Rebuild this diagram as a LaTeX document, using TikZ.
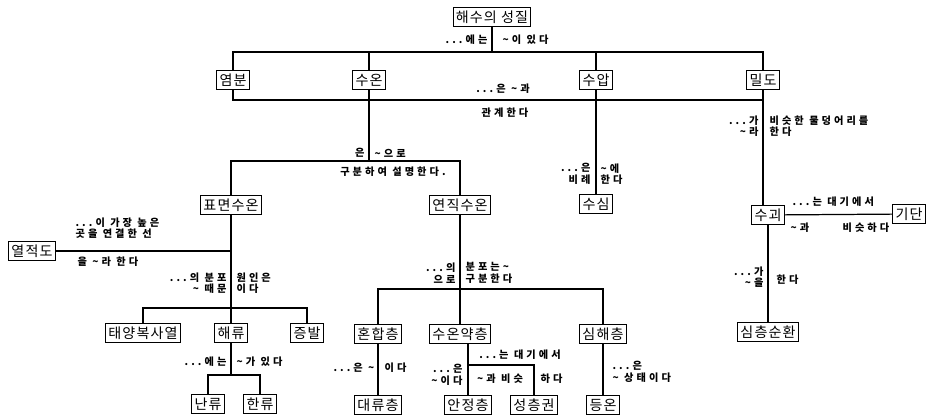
\documentclass[tikz,border=0pt]{standalone}
\usepackage{fontspec}
\newfontfamily\krbox[LetterSpace=8]{Noto Sans CJK KR}
\newfontfamily\krlab[LetterSpace=30]{Noto Sans CJK KR}
\newcommand{\wave}{\textasciitilde}
\begin{document}
\begin{tikzpicture}[x=0.02cm, y=-0.02cm, line width=0.7pt,
  cbox/.style={draw=black, line width=0.6pt, inner xsep=1.5pt, inner ysep=2pt, font=\krbox\fontsize{8}{9}\selectfont},
  lab/.style={inner sep=0pt, font=\krlab\bfseries\fontsize{5.8}{6.6}\selectfont}]
\useasboundingbox (0,0) rectangle (930,418);
% boxes
\node[cbox] (top) at (492,17) {해수의 성질};
\node[cbox] (salt) at (233,80) {염분};
\node[cbox] (temp) at (369,80) {수온};
\node[cbox] (press) at (596,80) {수압};
\node[cbox] (dens) at (763,80) {밀도};
\node[cbox] (surf) at (231,205) {표면수온};
\node[cbox] (vert) at (460,205) {연직수온};
\node[cbox] (depth) at (596,204) {수심};
\node[cbox] (mass) at (768,215) {수괴};
\node[cbox] (air) at (909,214) {기단};
\node[cbox] (deep) at (768,332) {심층순환};
\node[cbox] (equator) at (32,251) {열적도};
\node[cbox] (solar) at (143,333) {태양복사열};
\node[cbox] (current) at (231,333) {해류};
\node[cbox] (evap) at (307,333) {증발};
\node[cbox] (warm) at (208,404) {난류};
\node[cbox] (cold) at (260,404) {한류};
\node[cbox] (mixed) at (378,334) {혼합층};
\node[cbox] (thermo) at (460,334) {수온약층};
\node[cbox] (deepsea) at (603,334) {심해층};
\node[cbox] (conv) at (378,405) {대류층};
\node[cbox] (stable) at (468,405) {안정층};
\node[cbox] (strato) at (534,405) {성층권};
\node[cbox] (iso) at (603,405) {등온};
% junctions
\coordinate (j0) at (492,52);
\coordinate (rel) at (500,100);
\coordinate (tj) at (369,161);
\coordinate (sj) at (231,308);
\coordinate (cj) at (231,375);
\coordinate (vj) at (460,289);
\coordinate (tk) at (500,365);
% connectors
\draw (top) -- (j0);
\draw (salt) |- (j0) -| (dens);
\draw (temp) -- (temp |- j0);
\draw (press) -- (press |- j0);
\draw (salt) |- (rel) -- (rel -| dens);
\draw (dens) -- (dens |- mass.north);
\draw (temp) -- (tj);
\draw (surf) |- (tj) -| (vert);
\draw (press) -- (depth);
\draw (mass) -- (air);
\draw (mass) -- (deep);
\draw (equator) -- (equator -| surf);
\draw (surf) -- (sj);
\draw (solar) |- (sj) -| (evap);
\draw (sj) -- (current);
\draw (current) -- (cj);
\draw (warm) |- (cj) -| (cold);
\draw (vert) -- (vj);
\draw (mixed) |- (vj) -| (deepsea);
\draw (vj) -- (thermo);
\draw (mixed) -- (conv);
\draw (thermo.south -| stable) -- (stable);
\draw (stable |- tk) -| (strato);
\draw (deepsea) -- (iso);
% labels
\node[lab, anchor=east] (l1a) at (488,40) {...에는};
\node[lab, anchor=west] (l1b) at (502,40) {\wave{}이 있다};
\node[lab] (l2a) at (503,89) {...은 \wave{}과};
\node[lab] (l2b) at (505,113) {관계한다};
\node[lab, anchor=east] (l3a) at (365,153) {은};
\node[lab, anchor=west] (l3b) at (374,153) {\wave{}으로};
\node[lab] (l3c) at (393,172) {구분하여 설명한다.};
\node[lab, anchor=east, align=right] (l4a) at (591,174) {...은\\비례};
\node[lab, anchor=west, align=left] (l4b) at (600,174) {\wave{}에\\한다};
\node[lab, anchor=east, align=right] (l5a) at (759,126) {...가\\\wave{}라};
\node[lab, anchor=west, align=left] (l5b) at (769,126) {비슷한 물덩어리를\\한다};
\node[lab, anchor=west] (l6a) at (792,202) {...는 대기에서};
\node[lab, anchor=west] (l6b) at (790,228) {\wave{}과};
\node[lab, anchor=west] (l6c) at (842,228) {비슷하다};
\node[lab, anchor=east, align=right] (l7a) at (764,277) {...가\\\wave{}을};
\node[lab, anchor=west] (l7b) at (776,280) {한다};
\node[lab, anchor=west, align=left] (l8a) at (75,228) {...이 가장 높은\\곳을 연결한 선};
\node[lab, anchor=west] (l8b) at (77,262) {을 \wave{}라 한다};
\node[lab, anchor=east, align=right] (l9a) at (227,283) {...의 분포\\\wave{} 때문};
\node[lab, anchor=west, align=left] (l9b) at (236,283) {원인은\\이다};
\node[lab, anchor=east] (l10a) at (227,362) {...에는};
\node[lab, anchor=west] (l10b) at (236,362) {\wave{}가 있다};
\node[lab, anchor=east, align=right] (l11a) at (456,273) {...의\\으로};
\node[lab, anchor=west, align=left] (l11b) at (465,273) {분포는\wave\\구분한다};
\node[lab, anchor=east] (l12a) at (375,368) {...은 \wave};
\node[lab, anchor=west] (l12b) at (384,368) {이다};
\node[lab] (l13a) at (520,355) {...는 대기에서};
\node[lab, anchor=east, align=right] (l13b) at (463,375) {...은\\\wave{}이다};
\node[lab] (l13c) at (500,379) {\wave{}과 비슷};
\node[lab, anchor=west] (l13d) at (540,379) {하다};
\node[lab, anchor=west, align=left] (l14) at (612,372) {...은\\\wave{} 상태이다};
\end{tikzpicture}
\end{document}
